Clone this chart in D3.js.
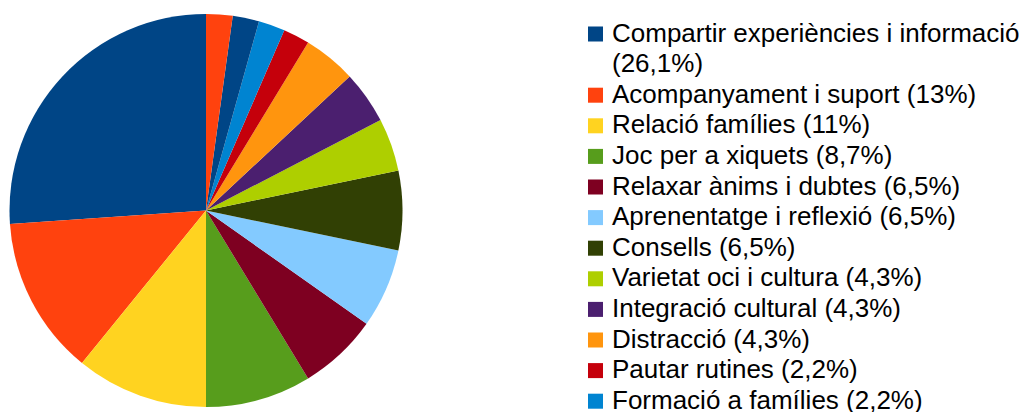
<!DOCTYPE html>
<html>
<head>
<meta charset="utf-8">
<script src="https://cdn.jsdelivr.net/npm/d3@7"></script>
<style>
  body { margin: 0; background: #fff; }
  text { font-family: "Liberation Sans", Arial, sans-serif; }
</style>
</head>
<body>
<div id="chart"></div>
<script>
// answer counts (46 in total), legend shows the share
var categories = [
  'Compartir experiències i informació',
  'Acompanyament i suport',
  'Relació famílies',
  'Joc per a xiquets',
  'Relaxar ànims i dubtes',
  'Aprenentatge i reflexió',
  'Consells',
  'Varietat oci i cultura',
  'Integració cultural',
  'Distracció',
  'Pautar rutines',
  'Formació a famílies'
]
var percentLabels = ['26,1%', '13%', '11%', '8,7%', '6,5%', '6,5%', '6,5%', '4,3%', '4,3%', '4,3%', '2,2%', '2,2%']
// last two slices belong to legend entries cut off below the picture
var values = [12, 6, 5, 4, 3, 3, 3, 2, 2, 2, 1, 1, 1, 1]

var palette = ['#004586', '#ff420e', '#ffd320', '#579d1c', '#7e0021', '#83caff',
  '#314004', '#aecf00', '#4b1f6f', '#ff950e', '#c5000b', '#0084d1']

var width = 1026, height = 412
var cx = 206, cy = 210.5, radius = 196.5

var svg = d3.select('#chart').append('svg')
  .attr('width', width)
  .attr('height', height)

var colorScale = d3.scaleOrdinal()
  .domain(d3.range(12))
  .range(palette)

// slices run counter-clockwise from 12 o'clock
var pie = d3.pie()
  .sort(null)
  .startAngle(0)
  .endAngle(-2 * Math.PI)

var arc = d3.arc()
  .innerRadius(0)
  .outerRadius(radius)

svg.append('g')
  .attr('transform', 'translate(' + cx + ',' + cy + ')')
  .selectAll('path')
  .data(pie(values))
  .enter().append('path')
  .attr('d', arc)
  .attr('fill', (d, i) => colorScale(i % 12))

// legend
var lineStep = 30.6
var legend = svg.append('g')
  .attr('transform', 'translate(588,41.5)')

var row = 0
categories.forEach(function (name, i) {
  var lines = i === 0
    ? [name, '(' + percentLabels[i] + ')']
    : [name + ' (' + percentLabels[i] + ')']
  var g = legend.append('g')
    .attr('transform', 'translate(0,' + (row * lineStep) + ')')
  g.append('rect')
    .attr('x', 0)
    .attr('y', -15)
    .attr('width', 15)
    .attr('height', 15)
    .attr('fill', colorScale(i))
  lines.forEach(function (t, j) {
    g.append('text')
      .attr('x', 24)
      .attr('y', j * lineStep)
      .attr('font-size', 26)
      .attr('fill', '#000')
      .text(t)
  })
  row += lines.length
})
</script>
</body>
</html>
